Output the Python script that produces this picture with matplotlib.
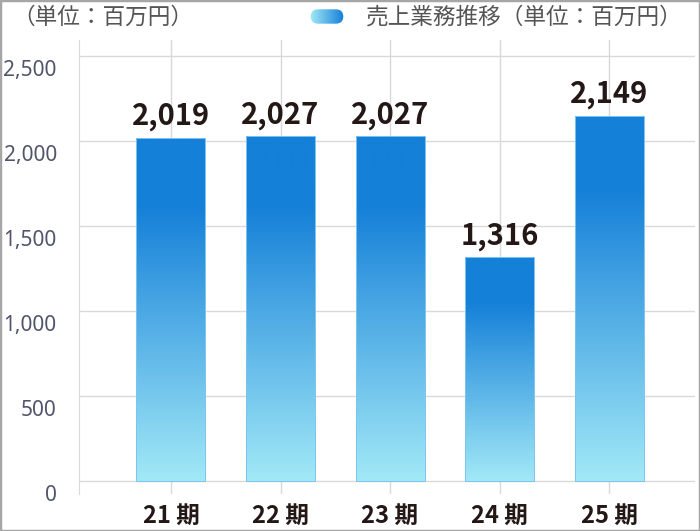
import numpy as np
import matplotlib.pyplot as plt
from matplotlib.colors import LinearSegmentedColormap
from matplotlib.patches import FancyBboxPatch, Rectangle
from matplotlib import transforms

plt.rcParams['font.family'] = ['Noto Sans CJK JP', 'DejaVu Sans']

# data
periods = ['21 期', '22 期', '23 期', '24 期', '25 期']
sales = [2019, 2027, 2027, 1316, 2149]
yticks = [0, 500, 1000, 1500, 2000, 2500]
header = '（単位：百万円）'
legend_label = '売上業務推移（単位：百万円）'

light = '#a2e9f7'
dark = '#1580d8'
cmap = LinearSegmentedColormap.from_list('bar', [(0, light), (0.8, dark), (1, dark)])
txt_dark = '#231815'
tick_gray = '#50556a'
grid_gray = '#d9d9d9'

fig = plt.figure(figsize=(7, 5.31), dpi=100)
fig.patch.set_facecolor('white')
ax = fig.add_axes([79 / 700, 37 / 531, 616 / 700, 454 / 531])

x = np.arange(len(periods))
width = 0.63
bars = ax.bar(x, sales, width, facecolor='none', edgecolor='#7cc4f0',
              lw=0.7, zorder=3)
grad = np.linspace(1, 0, 256).reshape(-1, 1)
for bar, v in zip(bars, sales):
    x0 = bar.get_x()
    im = ax.imshow(grad, cmap=cmap, vmin=0, vmax=1, aspect='auto',
                   extent=(x0, x0 + bar.get_width(), 0, v), zorder=2,
                   interpolation='bilinear')
    im.set_clip_path(bar)
    ax.annotate(f'{v:,}', (bar.get_x() + bar.get_width() / 2, v),
                xytext=(0, 9.5), textcoords='offset points',
                ha='center', va='baseline', fontsize=21, fontweight='bold',
                color=txt_dark)

ax.set_xlim(-0.84, 4.785)
ax.set_ylim(-76, 2594)

ax.set_yticks(yticks)
ax.set_yticklabels([f'{t:,}' for t in yticks], family='Noto Sans',
                   fontsize=15, color=tick_gray)
ax.tick_params(axis='y', length=0, pad=16)
offset = transforms.ScaledTranslation(0, -12 / 100, fig.dpi_scale_trans)
for lab in ax.get_yticklabels():
    lab.set_transform(lab.get_transform() + offset)

ax.set_xticks(x)
ax.set_xticklabels(periods, fontsize=17, fontweight='bold', color=txt_dark)
ax.tick_params(axis='x', length=0, pad=7)

for t in yticks:
    ax.axhline(t, color=grid_gray, lw=1, zorder=1)
for xi in x:
    ax.axvline(xi, color=grid_gray, lw=1, zorder=1)

for s in ['top', 'right', 'bottom']:
    ax.spines[s].set_visible(False)
ax.spines['left'].set_color(grid_gray)

# header and legend
fig.text(12 / 700, 1 - 17 / 531, header, fontsize=16.3, color='#555555',
         ha='left', va='center')
sw = fig.add_axes([310 / 700, 1 - 24 / 531, 34 / 700, 15 / 531])
sw.imshow(np.linspace(0, 1, 64).reshape(1, -1),
          cmap=LinearSegmentedColormap.from_list('sw', [light, dark]),
          aspect='auto', extent=(0, 1, 0, 1))
clip = FancyBboxPatch((0.02, 0.02), 0.96, 0.96, boxstyle='round,pad=0,rounding_size=0.22',
                      mutation_aspect=34 / 15, transform=sw.transAxes, fc='none', ec='none')
sw.add_patch(clip)
sw.images[0].set_clip_path(clip)
sw.axis('off')
fig.text(366 / 700, 1 - 17 / 531, legend_label, fontsize=16.3, color='#555555',
         ha='left', va='center')

# outer frame
fig.add_artist(Rectangle((0, 0), 1, 1, transform=fig.transFigure, fill=False,
                         edgecolor='#a6a6a6', lw=2.5))

fig.savefig('out.png', dpi=100)
